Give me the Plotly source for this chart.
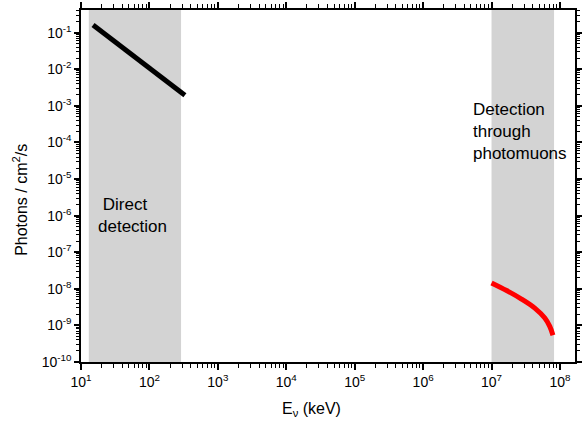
import plotly.graph_objects as go

# ---- data ----
direct_E = [15, 30, 60, 100, 200, 330]                      # keV
direct_flux = [0.162, 0.0612, 0.0226, 0.01089, 0.00403, 0.00196]

muon_E = [1.0e7, 1.66e7, 2.74e7, 4.29e7, 6.01e7, 7.10e7, 7.9e7]
muon_flux = [1.45e-8, 9.0e-9, 5.25e-9, 2.98e-9, 1.59e-9, 9.4e-10, 5.4e-10]

direct_band = [13, 290]        # keV, shaded region "Direct detection"
muon_band = [1.0e7, 8.2e7]     # keV, shaded region "Detection through photomuons"

x_exps = [1, 2, 3, 4, 5, 6, 7, 8]
y_exps = [-1, -2, -3, -4, -5, -6, -7, -8, -9, -10]

x_range_log = [1, 8.22]
y_range_log = [-10, -0.38]

BAND = "#d3d3d3"
FONT = "Liberation Sans, Arial, sans-serif"


def lab(e):
    return "10<sup>%d</sup>" % e


def band_xy(band):
    return ([band[0], band[1], band[1], band[0], band[0]],
            [1e-11, 1e-11, 10, 10, 1e-11])


fig = go.Figure()

for band in (direct_band, muon_band):
    bx, by = band_xy(band)
    fig.add_trace(go.Scatter(x=bx, y=by, fill="toself", fillcolor=BAND, mode="lines",
                             line=dict(width=0, color=BAND), hoverinfo="skip",
                             showlegend=False))
fig.add_trace(go.Scatter(x=direct_E, y=direct_flux, mode="lines",
                         line=dict(color="black", width=5), showlegend=False))
fig.add_trace(go.Scatter(x=muon_E, y=muon_flux, mode="lines",
                         line=dict(color="#ff0000", width=5, shape="spline"),
                         showlegend=False))

xt = [10.0 ** e for e in x_exps]
yt = [10.0 ** e for e in y_exps]

base = dict(showgrid=False, zeroline=False, linecolor="black", linewidth=1.5,
            tickcolor="black", tickwidth=1.5, type="log", tickmode="array",
            showline=True, mirror="allticks", ticks="outside")

fig.update_layout(
    width=582, height=425,
    margin=dict(l=81, r=0, t=10, b=63),
    paper_bgcolor="white", plot_bgcolor="white",
    font=dict(family=FONT, color="black", size=14),
    showlegend=False,
    xaxis=dict(**base, range=x_range_log, ticklen=6, tickvals=xt,
               ticktext=[lab(e) for e in x_exps], tickfont=dict(size=14, family=FONT),
               minor=dict(ticks="outside", ticklen=4, dtick="D1", tickcolor="black",
                          tickwidth=1.2, showgrid=False)),
    yaxis=dict(**base, range=y_range_log, ticklen=5, tickvals=yt,
               ticktext=[lab(e) for e in y_exps], tickfont=dict(size=14, family=FONT),
               minor=dict(ticks="outside", ticklen=3, dtick="D1", tickcolor="black",
                          tickwidth=1.2, showgrid=False)),
)

W, H = 501.0, 352.0


def px(xp):
    return (xp - 81) / W


def py(yp):
    return (362 - yp) / H


fig.add_annotation(text=" Direct<br>detection", xref="paper", yref="paper",
                   x=px(96), y=py(215), xanchor="left", yanchor="middle",
                   align="left", showarrow=False, font=dict(size=17, family=FONT))
fig.add_annotation(text="Detection<br>through<br>photomuons", xref="paper", yref="paper",
                   x=px(477), y=py(131), xanchor="left", yanchor="middle",
                   align="left", showarrow=False, font=dict(size=17, family=FONT))
fig.add_annotation(text="E<sub>ν</sub> (keV)", xref="paper", yref="paper",
                   x=px(315), y=py(410), xanchor="center", yanchor="middle",
                   showarrow=False, font=dict(size=16, family=FONT))
fig.add_annotation(text="Photons / cm<sup>2</sup>/s", xref="paper", yref="paper",
                   x=px(19), y=py(200), xanchor="center", yanchor="middle",
                   textangle=-90, showarrow=False, font=dict(size=16, family=FONT))

fig.write_html("out.html")
